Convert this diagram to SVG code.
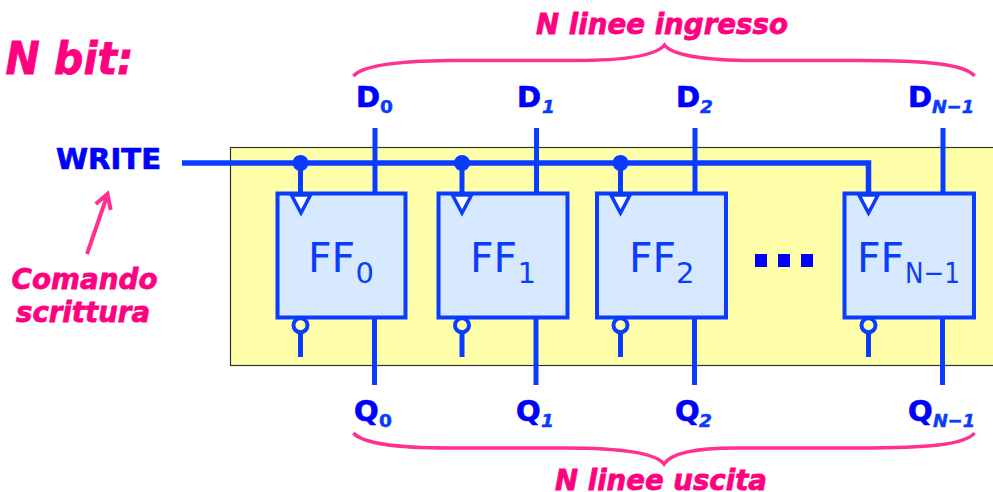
<svg xmlns="http://www.w3.org/2000/svg" width="993" height="492" viewBox="0 0 993 492">
<style>
text{font-family:"DejaVu Sans",Verdana,sans-serif}
.p{fill:#ff0080;stroke:#ff0080;stroke-width:.8;font-weight:bold;font-style:italic;text-anchor:middle}
.l{fill:#0000ff;stroke:#0000ff;stroke-width:.7;font-weight:bold;font-size:29px}
.s{fill:#0a3cff;stroke:#0a3cff;stroke-width:.5;font-weight:bold;font-size:18.500px}
.si{font-style:italic}
.ff{fill:#d7e9ff;stroke:#0a3cff;stroke-width:4}
.w{fill:none;stroke:#0a3cff;stroke-width:5}
.tri{fill:#fff;stroke:#0a3cff;stroke-width:3.500}
.bub{fill:#ffffaa;stroke:#0a3cff;stroke-width:4}
.dot{fill:#0a3cff}
.br{fill:none;stroke:#ff3090;stroke-width:3.500}
.n{fill:#0a3cff;font-size:41px}
.ns{fill:#0a3cff;font-size:29px}
.sq{fill:#0000ff}
</style>
<rect x="230.500" y="147.500" width="770" height="218" fill="#ffffaa" stroke="#333" stroke-width="1.200"/>
<text class="p" x="69.500" y="74" font-size="44" textLength="128" lengthAdjust="spacingAndGlyphs">N bit:</text>
<text class="p" x="662" y="34" font-size="29" textLength="252" lengthAdjust="spacingAndGlyphs">N linee ingresso</text>
<text class="p" x="661" y="489.500" font-size="28" textLength="212" lengthAdjust="spacingAndGlyphs">N linee uscita</text>
<text class="p" x="84.500" y="289" font-size="29" textLength="146" lengthAdjust="spacingAndGlyphs">Comando</text>
<text class="p" x="83" y="322" font-size="29" textLength="134" lengthAdjust="spacingAndGlyphs">scrittura</text>
<text class="l" x="56" y="169" textLength="105" lengthAdjust="spacingAndGlyphs">WRITE</text>
<g id="connectors">
<path class="w" style="stroke-width:5.500" d="M182 163H868.500V192"/>
<path class="w" d="M300.500 163V192M462 163V192M620.500 163V192"/>
<path class="w" d="M375 128V192M536.500 128V192M695 128V192M943 128V192"/>
<path class="w" d="M374.500 319V385M536 319V385M694.500 319V385M942.500 319V385"/>
<path class="w" d="M300.500 333V357M462 333V357M620.500 333V357M868.500 333V357"/>
<circle class="dot" cx="300.500" cy="163" r="8"/><circle class="dot" cx="462" cy="163" r="8"/><circle class="dot" cx="620.500" cy="163" r="8"/>
<path class="br" d="M353.500 76C362 66 395 61 450 60.500H575C620 60.500 655 57 664.500 45C672 55 705 60.500 755 60.500H860C925 60.500 965 64 974.500 76"/>
<path class="br" d="M353.500 433C362 443 395 448 450 448H565C615 448 655 452 664 464C672 452 700 448 735 448H860C925 448 965 445 974.500 433"/>
<path fill="none" stroke="#ff3090" stroke-width="4" d="M87 254L107 196M95.700 204L107.500 194L110.700 210"/>
</g>
<g id="ff0"><rect class="ff" x="277.500" y="193.500" width="128" height="124"/><path class="tri" d="M291.500 195H310.500L301 213Z"/><circle class="bub" cx="300.500" cy="325.300" r="7"/>
<text class="n" x="308" y="272">FF</text><text class="ns" x="355.500" y="283">0</text></g>
<g id="ff1"><rect class="ff" x="438.500" y="193.500" width="129" height="124"/><path class="tri" d="M452.500 195H471.500L462 213Z"/><circle class="bub" cx="462" cy="325.300" r="7"/>
<text class="n" x="470" y="272">FF</text><text class="ns" x="517.500" y="283">1</text></g>
<g id="ff2"><rect class="ff" x="597" y="193.500" width="129" height="124"/><path class="tri" d="M611 195H630L620.500 213Z"/><circle class="bub" cx="620.500" cy="325.300" r="7"/>
<text class="n" x="629" y="272">FF</text><text class="ns" x="676" y="283">2</text></g>
<g id="ffn"><rect class="ff" x="844.500" y="193.500" width="129.500" height="124"/><path class="tri" d="M859 195H878L868.500 213Z"/><circle class="bub" cx="868.500" cy="325.300" r="7"/>
<text class="n" x="857" y="272">FF</text><text class="ns" x="905" y="283" textLength="55" lengthAdjust="spacingAndGlyphs">N−1</text></g>
<g id="dots"><rect class="sq" x="755" y="254" width="12" height="13"/><rect class="sq" x="778" y="254" width="12" height="13"/><rect class="sq" x="801" y="254" width="12" height="13"/></g>
<g id="labels">
<text class="l" x="356" y="107">D</text><text class="s" x="380" y="113">0</text>
<text class="l" x="517" y="107">D</text><text class="s si" x="542" y="113">1</text>
<text class="l" x="676" y="107">D</text><text class="s si" x="700" y="113">2</text>
<text class="l" x="908" y="107">D</text><text class="s si" x="932" y="113" textLength="42" lengthAdjust="spacingAndGlyphs">N−1</text>
<text class="l" x="354" y="421">Q</text><text class="s" x="379" y="427">0</text>
<text class="l" x="516" y="421">Q</text><text class="s si" x="541" y="427">1</text>
<text class="l" x="675" y="421">Q</text><text class="s si" x="699" y="427">2</text>
<text class="l" x="908" y="421">Q</text><text class="s si" x="933" y="427" textLength="42" lengthAdjust="spacingAndGlyphs">N−1</text>
</g>
</svg>
